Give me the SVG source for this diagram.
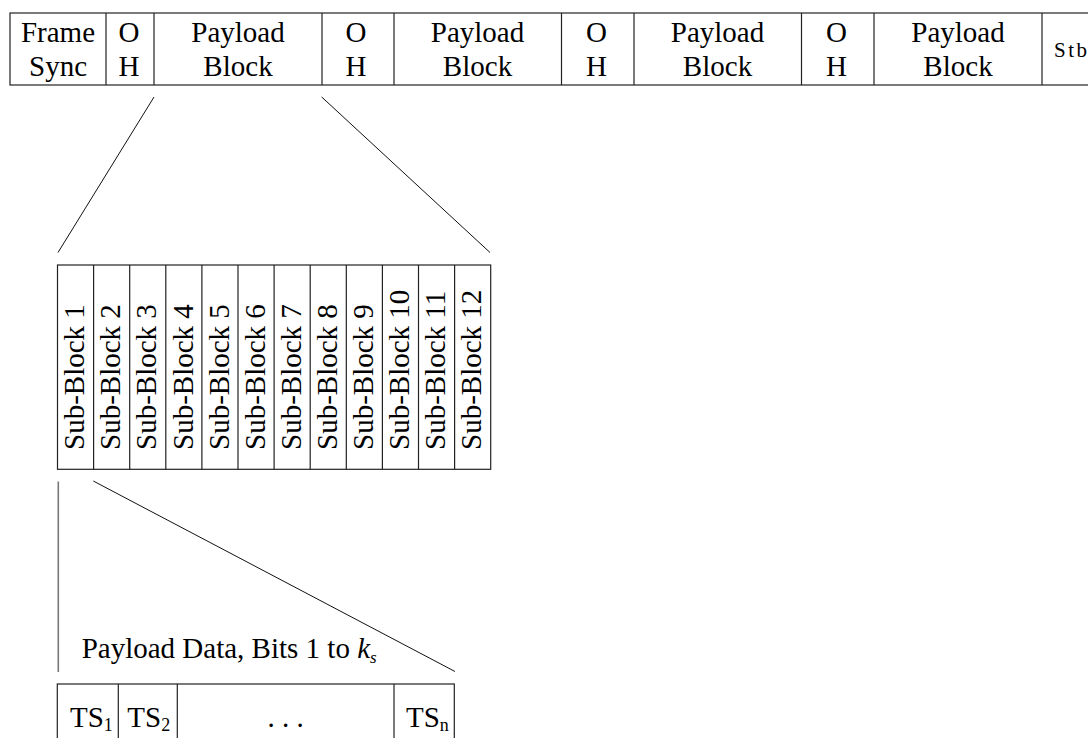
<svg xmlns="http://www.w3.org/2000/svg" width="1088" height="738" viewBox="0 0 1088 738">
<style>
.t{font-family:"Liberation Serif","Times New Roman",serif;font-size:29px;fill:#000}
.c{text-anchor:middle}
.b{fill:none;stroke:#222;stroke-width:1.2}
.l{fill:none;stroke:#111;stroke-width:1}
.sb{font-family:"Liberation Serif","Times New Roman",serif;font-size:29px;fill:#000}
.sub{font-size:18px}
</style>
<rect width="1088" height="738" fill="#fff"/>
<g id="frame">
<rect class="b" x="10" y="13" width="1100" height="72"/>
<line class="b" x1="106" y1="13" x2="106" y2="85"/>
<line class="b" x1="154" y1="13" x2="154" y2="85"/>
<line class="b" x1="322" y1="13" x2="322" y2="85"/>
<line class="b" x1="394" y1="13" x2="394" y2="85"/>
<line class="b" x1="561.5" y1="13" x2="561.5" y2="85"/>
<line class="b" x1="634" y1="13" x2="634" y2="85"/>
<line class="b" x1="801.5" y1="13" x2="801.5" y2="85"/>
<line class="b" x1="874" y1="13" x2="874" y2="85"/>
<line class="b" x1="1042" y1="13" x2="1042" y2="85"/>
</g>
<g id="frame-sync"><text class="t c" x="58" y="41.5">Frame</text><text class="t c" x="58" y="76">Sync</text></g>
<g id="oh1"><text class="t c" x="129" y="41.5">O</text><text class="t c" x="129" y="76">H</text></g>
<g id="payload1"><text class="t c" x="238" y="41.5">Payload</text><text class="t c" x="238" y="76">Block</text></g>
<g id="oh2"><text class="t c" x="356" y="41.5">O</text><text class="t c" x="356" y="76">H</text></g>
<g id="payload2"><text class="t c" x="477.5" y="41.5">Payload</text><text class="t c" x="477.5" y="76">Block</text></g>
<g id="oh3"><text class="t c" x="596.5" y="41.5">O</text><text class="t c" x="596.5" y="76">H</text></g>
<g id="payload3"><text class="t c" x="717.5" y="41.5">Payload</text><text class="t c" x="717.5" y="76">Block</text></g>
<g id="oh4"><text class="t c" x="836.5" y="41.5">O</text><text class="t c" x="836.5" y="76">H</text></g>
<g id="payload4"><text class="t c" x="958" y="41.5">Payload</text><text class="t c" x="958" y="76">Block</text></g>
<g id="stb"><text x="1054" y="57" font-family="Liberation Serif, serif" font-size="21" letter-spacing="2.5">Stb</text></g>
<g id="connectors">
<line class="l" x1="154" y1="97" x2="58" y2="252.5"/>
<line class="l" x1="321.7" y1="97" x2="490" y2="252.5"/>
<line x1="58.3" y1="481.5" x2="58.3" y2="672" stroke="#777" stroke-width="1.6"/>
<line class="l" x1="93.3" y1="481" x2="455" y2="671.5"/>
</g>
<g id="sub-blocks">
<rect class="b" x="57.5" y="265" width="433.2" height="204.3"/>
<line class="b" x1="93.6" y1="265" x2="93.6" y2="469.3"/>
<line class="b" x1="129.7" y1="265" x2="129.7" y2="469.3"/>
<line class="b" x1="165.8" y1="265" x2="165.8" y2="469.3"/>
<line class="b" x1="201.9" y1="265" x2="201.9" y2="469.3"/>
<line class="b" x1="238" y1="265" x2="238" y2="469.3"/>
<line class="b" x1="274.1" y1="265" x2="274.1" y2="469.3"/>
<line class="b" x1="310.2" y1="265" x2="310.2" y2="469.3"/>
<line class="b" x1="346.3" y1="265" x2="346.3" y2="469.3"/>
<line class="b" x1="382.4" y1="265" x2="382.4" y2="469.3"/>
<line class="b" x1="418.5" y1="265" x2="418.5" y2="469.3"/>
<line class="b" x1="454.6" y1="265" x2="454.6" y2="469.3"/>
<text class="sb" transform="translate(84.2,450) rotate(-90)">Sub-Block 1</text>
<text class="sb" transform="translate(120.3,450) rotate(-90)">Sub-Block 2</text>
<text class="sb" transform="translate(156.4,450) rotate(-90)">Sub-Block 3</text>
<text class="sb" transform="translate(192.5,450) rotate(-90)">Sub-Block 4</text>
<text class="sb" transform="translate(228.6,450) rotate(-90)">Sub-Block 5</text>
<text class="sb" transform="translate(264.7,450) rotate(-90)">Sub-Block 6</text>
<text class="sb" transform="translate(300.8,450) rotate(-90)">Sub-Block 7</text>
<text class="sb" transform="translate(336.9,450) rotate(-90)">Sub-Block 8</text>
<text class="sb" transform="translate(373,450) rotate(-90)">Sub-Block 9</text>
<text class="sb" transform="translate(409.1,450) rotate(-90)">Sub-Block 10</text>
<text class="sb" transform="translate(445.2,450) rotate(-90)">Sub-Block 11</text>
<text class="sb" transform="translate(481.3,450) rotate(-90)">Sub-Block 12</text>
</g>
<g id="payload-data-label"><text class="t" x="81.7" y="658">Payload Data, Bits 1 to <tspan font-style="italic">k</tspan><tspan font-style="italic" font-size="17" dy="5">s</tspan></text></g>
<g id="timeslots">
<rect class="b" x="57.3" y="684" width="397" height="70"/>
<line class="b" x1="118.3" y1="684" x2="118.3" y2="738"/>
<line class="b" x1="177.3" y1="684" x2="177.3" y2="738"/>
<line class="b" x1="394" y1="684" x2="394" y2="738"/>
<text class="t" x="70" y="726.5">TS<tspan class="sub" dy="4">1</tspan></text>
<text class="t" x="127.3" y="726.5">TS<tspan class="sub" dy="4">2</tspan></text>
<text class="t c" x="285.7" y="726.5">. . .</text>
<text class="t" x="406" y="726.5">TS<tspan class="sub" dy="4">n</tspan></text>
</g>
</svg>
